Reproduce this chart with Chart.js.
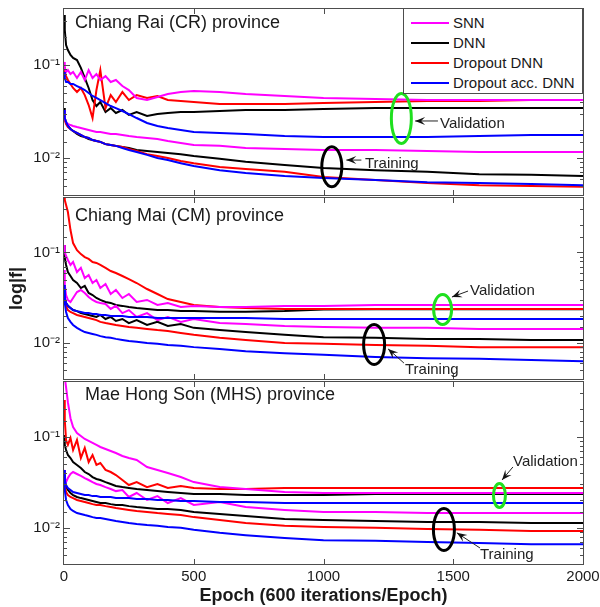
<!DOCTYPE html>
<html><head><meta charset="utf-8">
<script src="https://cdn.jsdelivr.net/npm/chart.js@4.4.1/dist/chart.umd.min.js"></script>
<style>
body{margin:0;background:#fff;}
#wrap{position:relative;width:600px;height:607px;overflow:hidden;font-family:"Liberation Sans",Arial,sans-serif;color:#1a1a1a;background:#fff;}
canvas{position:absolute;left:0;}
.lbl{position:absolute;white-space:nowrap;line-height:1;}
#legend{position:absolute;left:403px;top:8px;width:180px;height:86px;box-sizing:border-box;border:1px solid #4d4d4d;background:#fff;}
.li{position:absolute;left:0;width:100%;height:20px;}
.ls{position:absolute;left:7px;width:38px;height:2px;top:9px;}
.lt{position:absolute;left:49px;top:2px;font-size:15px;line-height:15px;white-space:nowrap;}
</style></head><body>
<div id="wrap">
<canvas id="c1" width="600" height="197" style="top:0px;width:600px;height:197px"></canvas>
<canvas id="c2" width="600" height="185" style="top:197px;width:600px;height:185px"></canvas>
<canvas id="c3" width="600" height="226" style="top:381px;width:600px;height:226px"></canvas>
</div>
<script>
// ---------------- data ----------------
const epochs = [0, 3, 8, 15, 25, 35, 50, 65, 80, 95, 110, 125, 140, 160, 180, 200, 225, 250, 280, 320, 360, 400, 450, 500, 600, 700, 850, 1000, 1200, 1400, 1600, 1800, 2000];
const models = ['SNN', 'DNN', 'Dropout DNN', 'Dropout acc. DNN'];
const panelTitles = ['Chiang Rai (CR) province', 'Chiang Mai (CM) province', 'Mae Hong Son (MHS) province'];
const xTickValues = [0, 500, 1000, 1500, 2000];
const xTickLabels = ['0', '500', '1000', '1500', '2000'];
const yTickValues = [0.01, 0.1];
const yTickLabels = ['10\u207B\u00B2', '10\u207B\u00B9'];
const xTitle = 'Epoch (600 iterations/Epoch)';
const yTitle = 'log|f|';

// Chiang Rai
const crValSNN   = [0.108, 0.093, 0.084, 0.088, 0.080, 0.084, 0.0725, 0.084, 0.069, 0.088, 0.0725, 0.080, 0.069, 0.076, 0.0656, 0.069, 0.0594, 0.0538, 0.0442, 0.042, 0.0453, 0.0487, 0.0512, 0.0525, 0.0512, 0.0487, 0.0464, 0.0442, 0.0431, 0.042, 0.042, 0.042, 0.042];
const crValDNN   = [0.345, 0.238, 0.164, 0.145, 0.128, 0.119, 0.113, 0.093, 0.0725, 0.0566, 0.042, 0.0362, 0.040, 0.0312, 0.0344, 0.0305, 0.0328, 0.029, 0.0312, 0.0283, 0.0297, 0.0305, 0.0312, 0.0312, 0.032, 0.0328, 0.0328, 0.0336, 0.0344, 0.0344, 0.0344, 0.0344, 0.0344];
const crValDrop  = [0.095, 0.084, 0.076, 0.069, 0.0625, 0.0566, 0.0512, 0.0566, 0.0475, 0.0371, 0.0269, 0.0538, 0.088, 0.0344, 0.0475, 0.040, 0.0512, 0.042, 0.0475, 0.0442, 0.0464, 0.042, 0.041, 0.040, 0.038, 0.038, 0.038, 0.039, 0.040, 0.041, 0.041, 0.042, 0.042];
const crValAcc   = [0.084, 0.0725, 0.0656, 0.0656, 0.0625, 0.0625, 0.0594, 0.0566, 0.0538, 0.050, 0.0464, 0.0442, 0.042, 0.039, 0.0362, 0.0344, 0.032, 0.0297, 0.0269, 0.0238, 0.0221, 0.021, 0.020, 0.019, 0.0186, 0.0181, 0.0172, 0.0168, 0.0168, 0.0168, 0.0172, 0.0177, 0.0177];
const crTrainSNN = [0.0328, 0.0269, 0.0244, 0.0232, 0.0226, 0.0221, 0.0215, 0.021, 0.0205, 0.020, 0.0195, 0.019, 0.019, 0.0186, 0.0181, 0.0181, 0.0177, 0.0172, 0.0168, 0.0164, 0.016, 0.0152, 0.0145, 0.0138, 0.0135, 0.0128, 0.0125, 0.0122, 0.0122, 0.0119, 0.0116, 0.0116, 0.0116];
const crTrainDNN = [0.0344, 0.0269, 0.0238, 0.0221, 0.0205, 0.0195, 0.0181, 0.0172, 0.0168, 0.016, 0.0156, 0.0152, 0.0149, 0.0141, 0.0138, 0.0135, 0.0131, 0.0128, 0.0122, 0.0119, 0.0116, 0.0113, 0.011, 0.0105, 0.0098, 0.0091, 0.0084, 0.0078, 0.0074, 0.0071, 0.0067, 0.0066, 0.0064];
const crTrainDrop= [0.0312, 0.0256, 0.0232, 0.0215, 0.0205, 0.0195, 0.0186, 0.0177, 0.0168, 0.0164, 0.0156, 0.0152, 0.0149, 0.0141, 0.0138, 0.0135, 0.0131, 0.0125, 0.0119, 0.011, 0.0105, 0.010, 0.0093, 0.0088, 0.008, 0.0076, 0.0071, 0.00625, 0.0058, 0.0054, 0.0051, 0.005, 0.0049];
const crTrainAcc = [0.0328, 0.0269, 0.0244, 0.0221, 0.0205, 0.0195, 0.0186, 0.0177, 0.0168, 0.0164, 0.0156, 0.0152, 0.0149, 0.0141, 0.0138, 0.0135, 0.0128, 0.0122, 0.0116, 0.0108, 0.010, 0.0095, 0.0088, 0.0082, 0.0074, 0.0069, 0.0064, 0.0061, 0.0058, 0.0055, 0.0054, 0.00525, 0.0051];

// Chiang Mai
const cmValSNN   = [0.121, 0.101, 0.0914, 0.0826, 0.0728, 0.0785, 0.0608, 0.0675, 0.0522, 0.0564, 0.046, 0.0497, 0.0405, 0.0449, 0.0348, 0.0385, 0.0314, 0.0348, 0.0284, 0.0299, 0.0263, 0.0277, 0.025, 0.0257, 0.025, 0.025, 0.0257, 0.0257, 0.0263, 0.0263, 0.0263, 0.0263, 0.0263];
const cmValDNN   = [0.121, 0.0869, 0.0728, 0.0608, 0.055, 0.0497, 0.046, 0.0405, 0.0427, 0.0357, 0.0339, 0.0314, 0.0299, 0.0284, 0.0277, 0.0263, 0.0257, 0.025, 0.0244, 0.0238, 0.0231, 0.0231, 0.0225, 0.0225, 0.0222, 0.0222, 0.0225, 0.0235, 0.0236, 0.0236, 0.0236, 0.0236, 0.0236];
const cmValDrop  = [0.42, 0.38, 0.335, 0.28, 0.177, 0.127, 0.106, 0.096, 0.089, 0.0848, 0.0785, 0.0766, 0.0728, 0.0675, 0.0624, 0.0593, 0.055, 0.0509, 0.046, 0.0395, 0.0348, 0.0306, 0.0284, 0.0263, 0.025, 0.0244, 0.0238, 0.0238, 0.0238, 0.0238, 0.0238, 0.0238, 0.0238];
const cmValAcc   = [0.0438, 0.0314, 0.0277, 0.0257, 0.0244, 0.0231, 0.0225, 0.022, 0.0214, 0.0214, 0.0209, 0.0209, 0.0204, 0.0204, 0.0199, 0.0199, 0.0199, 0.0194, 0.0194, 0.0194, 0.0189, 0.0189, 0.0189, 0.0189, 0.0189, 0.0189, 0.0184, 0.0184, 0.0184, 0.0184, 0.0184, 0.0184, 0.0184];
const cmTrainSNN = [0.064, 0.0438, 0.0339, 0.0299, 0.0284, 0.0314, 0.0366, 0.0385, 0.0357, 0.0322, 0.0299, 0.0284, 0.0277, 0.027, 0.0238, 0.0257, 0.0214, 0.0231, 0.0194, 0.0214, 0.0179, 0.0194, 0.0171, 0.0184, 0.0166, 0.0162, 0.0154, 0.015, 0.0147, 0.0147, 0.0143, 0.0143, 0.0143];
const cmTrainDNN = [0.0438, 0.0314, 0.0277, 0.0257, 0.0244, 0.0231, 0.0225, 0.0214, 0.0209, 0.0204, 0.0199, 0.0194, 0.0204, 0.0184, 0.0194, 0.0175, 0.0184, 0.0166, 0.0179, 0.0158, 0.0171, 0.0154, 0.0162, 0.0147, 0.0139, 0.0132, 0.0123, 0.0116, 0.0114, 0.0111, 0.0111, 0.0108, 0.0108];
const cmTrainDrop= [0.0385, 0.0299, 0.0257, 0.0231, 0.022, 0.0214, 0.0204, 0.0199, 0.0194, 0.0189, 0.0184, 0.0179, 0.0171, 0.0166, 0.0162, 0.0158, 0.0154, 0.015, 0.0147, 0.0143, 0.0139, 0.0136, 0.0129, 0.0123, 0.0114, 0.0108, 0.010, 0.0098, 0.0095, 0.0093, 0.009, 0.009, 0.009];
const cmTrainAcc = [0.0385, 0.0277, 0.022, 0.0189, 0.0171, 0.0158, 0.0147, 0.0139, 0.0132, 0.0129, 0.0126, 0.0123, 0.0119, 0.0116, 0.0114, 0.0111, 0.0108, 0.0105, 0.0103, 0.010, 0.0098, 0.0095, 0.0093, 0.009, 0.0086, 0.0081, 0.0077, 0.0074, 0.007, 0.0068, 0.0067, 0.0065, 0.0063];

// Mae Hong Son
const mhsValSNN   = [0.5, 0.45, 0.35, 0.24, 0.16, 0.128, 0.11, 0.102, 0.0946, 0.09, 0.0855, 0.0813, 0.0773, 0.0735, 0.0698, 0.0664, 0.0615, 0.0585, 0.0556, 0.0466, 0.0432, 0.040, 0.0361, 0.0318, 0.028, 0.0267, 0.0247, 0.0241, 0.0241, 0.0241, 0.0241, 0.0241, 0.0241];
const mhsValDNN   = [0.1046, 0.0813, 0.0716, 0.0631, 0.0585, 0.0528, 0.049, 0.0454, 0.041, 0.039, 0.0361, 0.0344, 0.0335, 0.0318, 0.0303, 0.0288, 0.028, 0.0274, 0.0267, 0.026, 0.0253, 0.0247, 0.0241, 0.0235, 0.0235, 0.0229, 0.0229, 0.0229, 0.0235, 0.0235, 0.0235, 0.0235, 0.0235];
const mhsValDrop  = [0.253, 0.153, 0.0922, 0.0813, 0.097, 0.0716, 0.0922, 0.0585, 0.0753, 0.0528, 0.0631, 0.049, 0.0515, 0.0432, 0.041, 0.038, 0.0335, 0.0295, 0.0318, 0.028, 0.0303, 0.0274, 0.0288, 0.0274, 0.0267, 0.0267, 0.0274, 0.0274, 0.0274, 0.0274, 0.0274, 0.0274, 0.0274];
const mhsValAcc   = [0.0432, 0.0335, 0.0295, 0.0274, 0.026, 0.0247, 0.0241, 0.0235, 0.0229, 0.0229, 0.0223, 0.0223, 0.0218, 0.0218, 0.0218, 0.0212, 0.0212, 0.0212, 0.0207, 0.0207, 0.0202, 0.0202, 0.0197, 0.0197, 0.0192, 0.0192, 0.0187, 0.0187, 0.0187, 0.0187, 0.0187, 0.0187, 0.0187];
const mhsTrainSNN = [0.0432, 0.0352, 0.0318, 0.0352, 0.039, 0.041, 0.039, 0.0371, 0.0352, 0.0335, 0.0318, 0.0303, 0.0295, 0.028, 0.0267, 0.0253, 0.026, 0.0218, 0.0241, 0.0202, 0.0223, 0.0187, 0.0212, 0.0178, 0.0192, 0.0169, 0.0157, 0.0149, 0.0149, 0.0145, 0.0145, 0.0145, 0.0145];
const mhsTrainDNN = [0.0432, 0.0318, 0.028, 0.026, 0.0241, 0.0229, 0.0218, 0.0212, 0.0207, 0.0202, 0.0197, 0.0192, 0.0187, 0.0187, 0.0182, 0.0178, 0.0178, 0.0173, 0.0169, 0.0165, 0.0161, 0.0161, 0.0157, 0.0149, 0.0142, 0.0135, 0.0125, 0.0122, 0.0119, 0.0116, 0.0116, 0.0113, 0.0113];
const mhsTrainDrop= [0.0352, 0.0295, 0.0247, 0.0229, 0.0218, 0.0212, 0.0202, 0.0197, 0.0192, 0.0187, 0.0182, 0.0178, 0.0178, 0.0173, 0.0169, 0.0165, 0.0161, 0.0157, 0.0153, 0.0149, 0.0145, 0.0142, 0.0138, 0.0131, 0.0122, 0.0113, 0.0105, 0.0102, 0.010, 0.0097, 0.0095, 0.0092, 0.0092];
const mhsTrainAcc = [0.038, 0.026, 0.0202, 0.0178, 0.0161, 0.0153, 0.0145, 0.0142, 0.0138, 0.0135, 0.0131, 0.0128, 0.0128, 0.0125, 0.0122, 0.0119, 0.0116, 0.0113, 0.011, 0.0107, 0.0105, 0.0102, 0.010, 0.0095, 0.0088, 0.0083, 0.0077, 0.0073, 0.0072, 0.007, 0.0068, 0.0066, 0.0066];

// ---------------- styling / layout ----------------
const FONT = "'Liberation Sans', Arial, sans-serif";
const TXT = '#1a1a1a';
const modelColors = ['#ff00ff', '#000000', '#ff0000', '#0000ff'];
const drawOrder = [1, 3, 2, 0]; // lower = on top
Chart.defaults.font.family = FONT;

const panels = [
  { id: 'c1', top: 0, padTop: 9, padBottom: 2, showX: false, showYTitle: false,
    val: [crValSNN, crValDNN, crValDrop, crValAcc], train: [crTrainSNN, crTrainDNN, crTrainDrop, crTrainAcc],
    ellipses: [ {x: 1300, y: 0.0266, rx: 10, ry: 25, color: '#1fe01f'}, {x: 1032, y: 0.00805, rx: 10, ry: 20, color: '#000'} ],
    arrows: [ {x1: 1441, y1: 0.025, x2: 1353, y2: 0.025}, {x1: 1146, y1: 0.0095, x2: 1088, y2: 0.0095} ],
    texts: [ {t: 'Validation', left: 440, cy: 122}, {t: 'Training', left: 365, cy: 162} ],
    title: {left: 75, cy: 22} },
  { id: 'c2', top: 197, padTop: 1, padBottom: 3, showX: false, showYTitle: true,
    val: [cmValSNN, cmValDNN, cmValDrop, cmValAcc], train: [cmTrainSNN, cmTrainDNN, cmTrainDrop, cmTrainAcc],
    ellipses: [ {x: 1459, y: 0.02344, rx: 9, ry: 15, color: '#1fe01f'}, {x: 1195, y: 0.00962, rx: 10.5, ry: 20, color: '#000'} ],
    arrows: [ {x1: 1557, y1: 0.0375, x2: 1495, y2: 0.0322}, {x1: 1310, y1: 0.006, x2: 1249, y2: 0.0086} ],
    texts: [ {t: 'Validation', left: 470, cy: 289}, {t: 'Training', left: 405, cy: 368} ],
    title: {left: 75, cy: 215} },
  { id: 'c3', top: 381, padTop: 1, padBottom: 0, showX: true, showYTitle: false,
    val: [mhsValSNN, mhsValDNN, mhsValDrop, mhsValAcc], train: [mhsTrainSNN, mhsTrainDNN, mhsTrainDrop, mhsTrainAcc],
    ellipses: [ {x: 1678, y: 0.02264, rx: 6, ry: 12, color: '#1fe01f'}, {x: 1464, y: 0.00957, rx: 10.5, ry: 21, color: '#000'} ],
    arrows: [ {x1: 1730, y1: 0.0466, x2: 1688, y2: 0.0335}, {x1: 1603, y1: 0.006, x2: 1514, y2: 0.0088} ],
    texts: [ {t: 'Validation', left: 513, cy: 460}, {t: 'Training', left: 480, cy: 553} ],
    title: {left: 85, cy: 394} }
];

function isDecade(v) { const l = Math.log10(v); return Math.abs(l - Math.round(l)) < 1e-6; }

function drawArrow(ctx, x1, y1, x2, y2) {
  ctx.beginPath(); ctx.moveTo(x1, y1); ctx.lineTo(x2, y2); ctx.stroke();
  const a = Math.atan2(y2 - y1, x2 - x1), c = Math.cos(a), s = Math.sin(a);
  const L = 10, W = 4;
  ctx.beginPath();
  ctx.moveTo(x2, y2);
  ctx.lineTo(x2 - L * c + W * s, y2 - L * s - W * c);
  ctx.lineTo(x2 - 0.6 * L * c, y2 - 0.6 * L * s);
  ctx.lineTo(x2 - L * c - W * s, y2 - L * s + W * c);
  ctx.closePath(); ctx.fill();
}

const framePlugin = {
  id: 'frame',
  afterDraw(chart) {
    const p = chart.options.plugins.frame;
    const { ctx, chartArea: a } = chart;
    const x = chart.scales.x, y = chart.scales.y;
    ctx.save();
    ctx.strokeStyle = '#4d4d4d'; ctx.lineWidth = 1;
    ctx.strokeRect(a.left - 0.5, a.top - 0.5, a.right - a.left + 1, a.bottom - a.top + 1);
    ctx.beginPath();
    xTickValues.forEach(v => {
      if (v === 0 || v === 2000) return;
      const px = Math.round(x.getPixelForValue(v)) + 0.5;
      ctx.moveTo(px, a.top); ctx.lineTo(px, a.top + 5);
      ctx.moveTo(px, a.bottom); ctx.lineTo(px, a.bottom - 5);
    });
    y.ticks.forEach(t => {
      const py = Math.round(y.getPixelForValue(t.value)) + 0.5;
      if (py <= a.top + 1 || py >= a.bottom - 1) return;
      const L = isDecade(t.value) ? 6 : 3;
      ctx.moveTo(a.left, py); ctx.lineTo(a.left + L, py);
      ctx.moveTo(a.right, py); ctx.lineTo(a.right - L, py);
    });
    ctx.stroke();
    // annotations
    ctx.lineWidth = 3;
    p.ellipses.forEach(e => {
      ctx.strokeStyle = e.color;
      ctx.beginPath();
      ctx.ellipse(x.getPixelForValue(e.x), y.getPixelForValue(e.y), e.rx, e.ry, 0, 0, Math.PI * 2);
      ctx.stroke();
    });
    ctx.lineWidth = 1; ctx.strokeStyle = '#222'; ctx.fillStyle = '#111';
    p.arrows.forEach(r => {
      drawArrow(ctx, x.getPixelForValue(r.x1), y.getPixelForValue(r.y1), x.getPixelForValue(r.x2), y.getPixelForValue(r.y2));
    });
    ctx.restore();
  }
};

function yTickCb(v) {
  for (let i = 0; i < yTickValues.length; i++) {
    if (Math.abs(v - yTickValues[i]) / yTickValues[i] < 1e-6) return yTickLabels[i];
  }
  return '';
}
function xTickCb(v) {
  const i = xTickValues.indexOf(v);
  return i >= 0 ? xTickLabels[i] : '';
}

panels.forEach((p, pi) => {
  const datasets = [];
  models.forEach((m, i) => {
    [['validation', p.val[i]], ['training', p.train[i]]].forEach(([kind, arr]) => {
      datasets.push({
        label: m + ' ' + kind,
        data: arr.map((v, k) => ({ x: epochs[k], y: v })),
        borderColor: modelColors[i], backgroundColor: modelColors[i],
        borderWidth: 2, pointRadius: 0, tension: 0, fill: false,
        order: drawOrder[i], clip: 0
      });
    });
  });
  const xScale = {
    type: 'linear', min: 0, max: 2000, display: p.showX,
    grid: { display: false, drawTicks: false }, border: { display: false },
    ticks: { stepSize: 500, callback: xTickCb, padding: 4, autoSkip: false, maxRotation: 0, color: TXT, font: { size: 15, family: FONT } },
    title: { display: p.showX, text: xTitle, color: TXT, font: { size: 18, weight: 'bold', family: FONT }, padding: { top: 0, bottom: 0 } }
  };
  if (p.showX) xScale.afterFit = function (s) { s.height = 43; s.paddingLeft = 0; s.paddingRight = 0; };
  new Chart(document.getElementById(p.id), {
    type: 'line',
    data: { datasets },
    options: {
      responsive: false, animation: false, events: [],
      layout: { padding: { left: 0, right: 17, top: p.padTop, bottom: p.padBottom } },
      plugins: { legend: { display: false }, tooltip: { enabled: false }, frame: p },
      scales: {
        x: xScale,
        y: {
          type: 'logarithmic', min: 0.004, max: 0.4,
          grid: { display: false, drawTicks: false }, border: { display: false },
          ticks: { callback: yTickCb, autoSkip: false, padding: 4, color: TXT, font: { size: 15, family: FONT } },
          title: { display: p.showYTitle, text: yTitle, color: TXT, font: { size: 18, weight: 'bold', family: FONT }, padding: { top: 6, bottom: 0 } },
          afterFit(s) { s.width = 64; s.paddingTop = 0; s.paddingBottom = 0; }
        }
      }
    },
    plugins: [framePlugin]
  });
});

// ---------------- HTML text overlays ----------------
const wrap = document.getElementById('wrap');
function addLabel(text, left, cy, size, extra) {
  const d = document.createElement('div');
  d.className = 'lbl';
  d.textContent = text;
  d.style.left = left + 'px';
  d.style.top = (cy - size / 2) + 'px';
  d.style.fontSize = size + 'px';
  if (extra) Object.assign(d.style, extra);
  wrap.appendChild(d);
}
panels.forEach((p, i) => {
  addLabel(panelTitles[i], p.title.left, p.title.cy, 18);
  p.texts.forEach(t => addLabel(t.t, t.left, t.cy, 15, { color: '#222' }));
});
const lg = document.createElement('div');
lg.id = 'legend';
models.forEach((m, i) => {
  const it = document.createElement('div');
  it.className = 'li';
  it.style.top = (4 + i * 20) + 'px';
  const s = document.createElement('span'); s.className = 'ls'; s.style.background = modelColors[i];
  const t = document.createElement('span'); t.className = 'lt'; t.textContent = m;
  it.appendChild(s); it.appendChild(t); lg.appendChild(it);
});
wrap.appendChild(lg);
</script>
</body></html>
